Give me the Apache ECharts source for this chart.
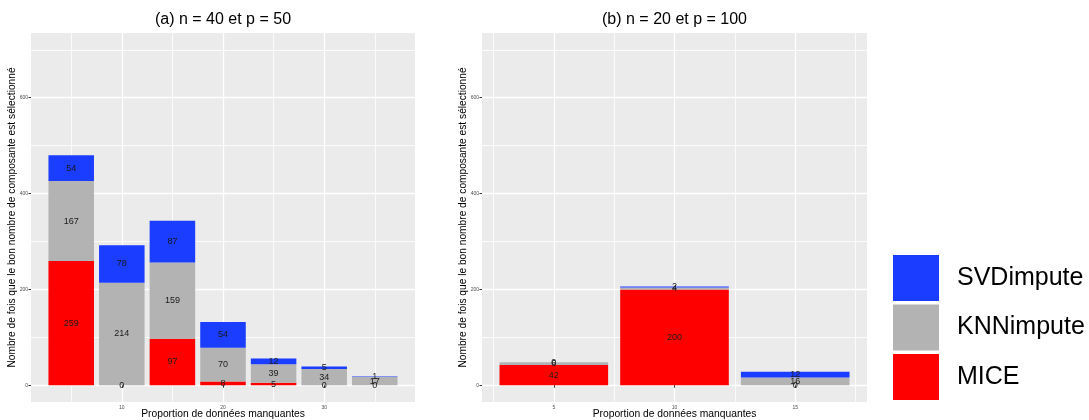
<!DOCTYPE html>
<html><head><meta charset="utf-8">
<script src="https://cdn.jsdelivr.net/npm/echarts@6/dist/echarts.min.js"></script>
<style>html,body{margin:0;padding:0;background:#fff}#c{width:1089px;height:420px}</style>
</head><body><div id="c"></div>
<script>
const legendOrder = ['SVDimpute', 'KNNimpute', 'MICE'];
const colors = { MICE: '#ff0000', KNNimpute: '#b3b3b3', SVDimpute: '#1b3dff' };

const titleA = '(a) n = 40 et p = 50';
const titleB = '(b) n = 20 et p = 100';
const yTitle = 'Nombre de fois que le bon nombre de composante est sélectionné';
const xTitle = 'Proportion de données manquantes';

const propA = [5, 10, 15, 20, 25, 30, 35];
const miceA = [259, 0, 97, 8, 5, 0, 0];
const knnA  = [167, 214, 159, 70, 39, 34, 17];
const svdA  = [54, 78, 87, 54, 12, 5, 1];
const xTicksA = [10, 20, 30];
const xMinorA = [5, 15, 25, 35];

const propB = [5, 10, 15];
const miceB = [42, 200, 0];
const knnB  = [6, 4, 16];
const svdB  = [0, 2, 12];
const xTicksB = [5, 10, 15];
const xMinorB = [2.5, 7.5, 12.5, 17.5];

const yTicks = [0, 200, 400, 600];
const yMinor = [100, 300, 500, 700];
const yLimit = [0, 700];
const barUnits = 4.5;

const FONT = '"Liberation Sans", Arial, Helvetica, sans-serif';
const grids = [
  { left: 31, top: 33, width: 384, height: 369 },
  { left: 482, top: 33, width: 385, height: 369 }
];

function xRange(xs) {
  const lo = Math.min(...xs) - barUnits / 2, hi = Math.max(...xs) + barUnits / 2;
  const e = (hi - lo) * 0.05;
  return [lo - e, hi + e];
}
const yE = (yLimit[1] - yLimit[0]) * 0.05;
const yMin = yLimit[0] - yE, yMax = yLimit[1] + yE;

const panels = [
  { xs: propA, mice: miceA, knn: knnA, svd: svdA, ticks: xTicksA, minor: xMinorA, title: titleA },
  { xs: propB, mice: miceB, knn: knnB, svd: svdB, ticks: xTicksB, minor: xMinorB, title: titleB }
];

const xAxis = [], yAxis = [], series = [], title = [];
panels.forEach((p, i) => {
  const [lo, hi] = xRange(p.xs);
  const g = grids[i];
  const bw = barUnits * g.width / (hi - lo);
  title.push({
    text: p.title, left: g.left + g.width / 2, top: 12, textAlign: 'center', padding: 0,
    textStyle: { fontFamily: FONT, fontSize: 16, fontWeight: 'normal', color: '#000' }
  });
  xAxis.push({
    type: 'value', gridIndex: i, min: lo, max: hi,
    name: xTitle, nameLocation: 'middle', nameGap: 7, nameMoveOverlap: false,
    nameTextStyle: { fontFamily: FONT, fontSize: 10.3, color: '#000' },
    axisLine: { show: false },
    axisTick: { show: true, length: 2.5, customValues: p.ticks, lineStyle: { color: '#333', width: 1 } },
    axisLabel: { show: true, customValues: p.ticks, fontSize: 5, color: '#4d4d4d', margin: 3, fontFamily: FONT },
    splitLine: { show: true, lineStyle: { color: '#fff', width: 1.3 } }
  });
  xAxis.push({
    type: 'value', gridIndex: i, min: lo, max: hi,
    axisLine: { show: false },
    axisTick: { show: false, customValues: p.minor },
    axisLabel: { show: false, customValues: p.minor },
    splitLine: { show: true, lineStyle: { color: '#fff', width: 0.8 } }
  });
  yAxis.push({
    type: 'value', gridIndex: i, min: yMin, max: yMax, position: 'left',
    name: yTitle, nameLocation: 'middle', nameGap: 14, nameRotate: 90, nameMoveOverlap: false,
    nameTextStyle: { fontFamily: FONT, fontSize: 10.2, color: '#000' },
    axisLine: { show: false },
    axisTick: { show: true, length: 2.5, customValues: yTicks, lineStyle: { color: '#333', width: 1 } },
    axisLabel: { show: true, customValues: yTicks, fontSize: 5, color: '#4d4d4d', margin: 3, fontFamily: FONT },
    splitLine: { show: true, lineStyle: { color: '#fff', width: 1.3 } }
  });
  yAxis.push({
    type: 'value', gridIndex: i, min: yMin, max: yMax, position: 'left',
    axisLine: { show: false },
    axisTick: { show: false, customValues: yMinor },
    axisLabel: { show: false, customValues: yMinor },
    splitLine: { show: true, lineStyle: { color: '#fff', width: 0.8 } }
  });
  const parts = [['MICE', p.mice], ['KNNimpute', p.knn], ['SVDimpute', p.svd]];
  parts.forEach(([name, vals]) => {
    series.push({
      type: 'bar', name, stack: 'panel' + i,
      xAxisIndex: i * 2, yAxisIndex: i * 2,
      barWidth: bw,
      dimensions: [{ name: 'count', type: 'number' }, { name: 'prop', type: 'number' }],
      encode: { x: 'prop', y: 'count' },
      itemStyle: { color: colors[name] },
      label: { show: true, position: 'inside', fontFamily: FONT, fontSize: 9, color: '#1a1a1a',
               formatter: (d) => String(d.value[0]) },
      emphasis: { disabled: true },
      data: p.xs.map((x, k) => [vals[k], x])
    });
  });
});

const chart = echarts.init(document.getElementById('c'), null, { renderer: 'canvas' });
chart.setOption({
  animation: false,
  backgroundColor: '#fff',
  title,
  grid: grids.map(g => Object.assign({ backgroundColor: '#ebebeb', show: true, borderWidth: 0,
                                       containLabel: false, outerBoundsMode: 'none' }, g)),
  legend: {
    data: legendOrder, orient: 'vertical', left: 893, top: 255, padding: 0,
    itemWidth: 46, itemHeight: 46, itemGap: 3.5, icon: 'rect', selectedMode: false,
    textStyle: { fontFamily: FONT, fontSize: 25, color: '#000', padding: [0, 0, 0, 13] }
  },
  xAxis, yAxis, series
});
</script>
</body></html>
